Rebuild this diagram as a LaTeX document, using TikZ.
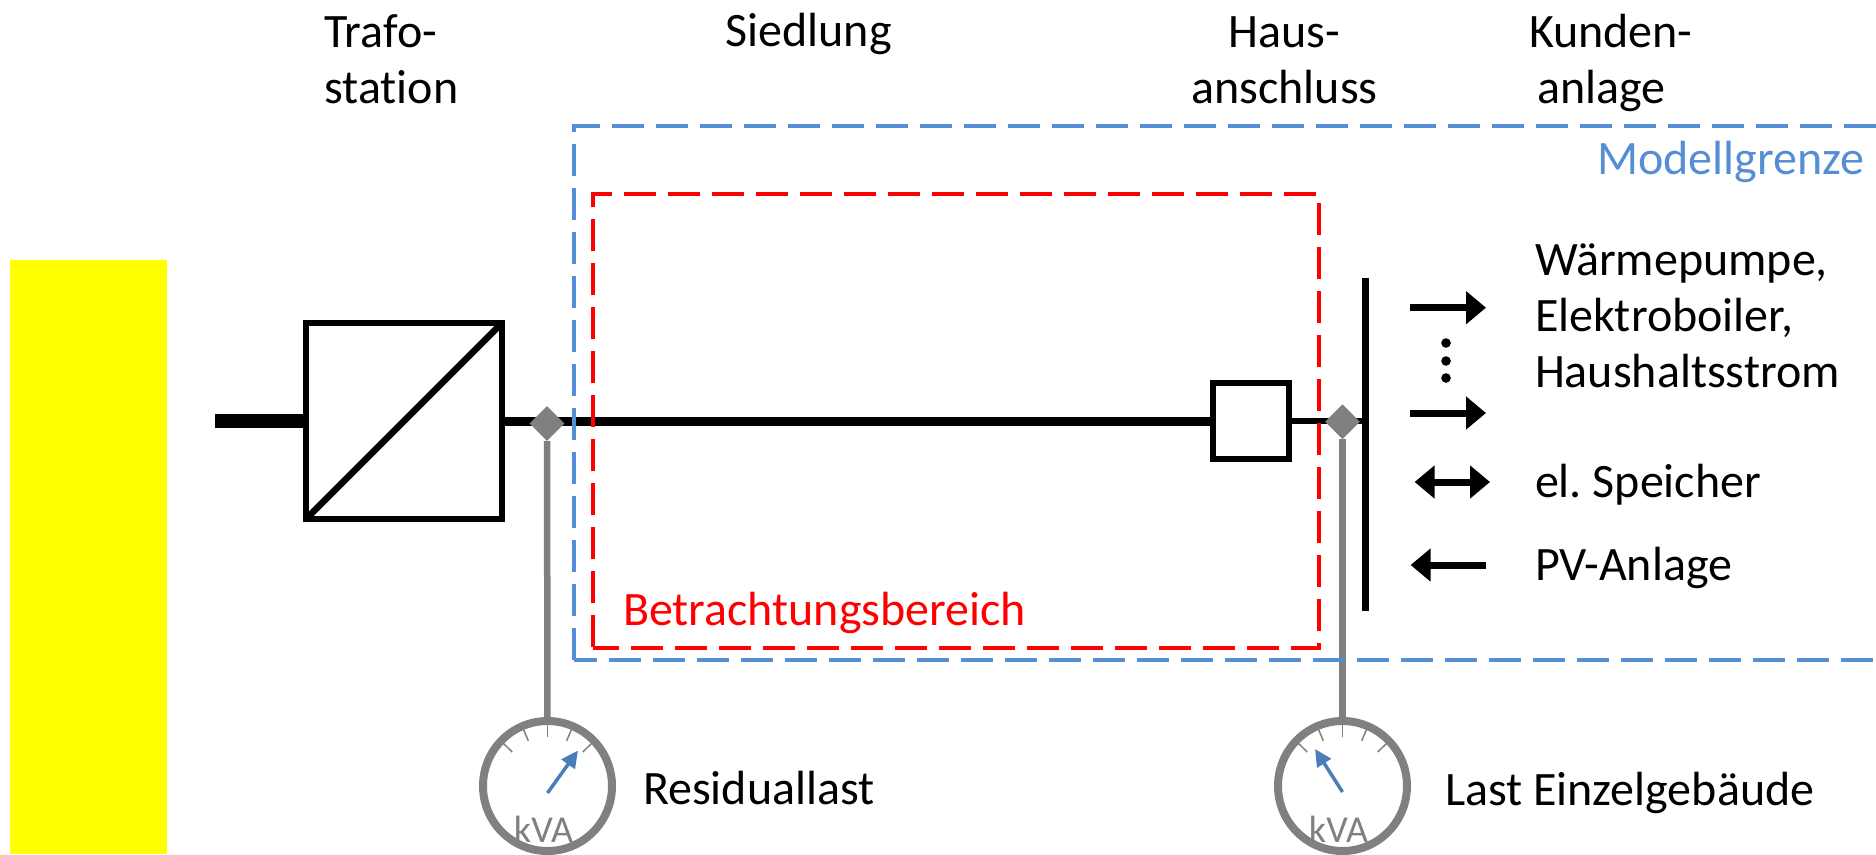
\documentclass[tikz,border=0pt]{standalone}
\usepackage{fontspec}
\setmainfont{Carlito}[Ligatures=NoCommon]
\usetikzlibrary{arrows.meta,shapes.geometric}

\definecolor{netzgelb}{HTML}{FFFF00}
\definecolor{grenzrot}{HTML}{FF0000}
\definecolor{grenzblau}{HTML}{558ED5}
\definecolor{zeigerblau}{HTML}{4A7EBB}
\definecolor{messgrau}{HTML}{808080}

\tikzset{
  beschr/.style={anchor=base west, inner sep=0pt, outer sep=0pt, align=left, font=\fontsize{48}{56}\selectfont},
  kasten/.style={draw=black, fill=white, rectangle, inner sep=0pt, outer sep=0pt},
  mess/.style={diamond, fill=messgrau, inner sep=0pt, minimum width=35pt, minimum height=35pt},
  anzeige/.style={ellipse, draw=messgrau, line width=8pt, inner sep=0pt, outer sep=0pt, minimum width=129pt, minimum height=130pt},
  grenze/.style={line width=4pt, dash pattern=on 32pt off 12pt},
  pfeil/.style={line width=7pt, -{Triangle[length=20pt,width=32pt]}},
  doppelpfeil/.style={line width=7pt, {Triangle[length=20pt,width=32pt]}-{Triangle[length=20pt,width=32pt]}},
  zeiger/.style={zeigerblau, line width=3.5pt, -{Triangle[length=17pt,width=16pt]}},
  skala/.style={messgrau, line width=1.5pt}
}

\begin{document}
\begin{tikzpicture}[x=1pt, y=-1pt]
  \useasboundingbox (0,0) rectangle (1876,854);

  \node (netz) [anchor=north west, fill=netzgelb, inner sep=0pt, minimum width=157pt, minimum height=594pt] at (10,260) {};

  \node (trafo) [kasten, line width=6.5pt, minimum size=196pt] at (404,421) {};
  \node (hak) [kasten, line width=5.5pt, minimum size=76pt] at (1251,421) {};
  \coordinate (einsp) at (215,421);
  \coordinate (sammeloben) at (1365,278);
  \coordinate (sammelunten) at (1365,611);
  \coordinate (sammel) at (1365,421);

  \draw [line width=14pt, black] (einsp)--(trafo.west);
  \draw [line width=6.5pt, black] (trafo.south west)--(trafo.north east);
  \draw [line width=9pt, black] (trafo.east)--(hak.west);
  \draw [line width=6pt, black] (hak.east)--(sammel);
  \draw [line width=7pt, black] (sammeloben)--(sammelunten);

  \node (messa) [mess] at (547,423.5) {};
  \node (messb) [mess] at (1342.5,421.7) {};
  \node (anza) [anzeige] at (547.5,786) {};
  \node (anzb) [anzeige] at (1342.5,786) {};
  \draw [messgrau, line width=6.5pt] (messa.south)--(anza.north);
  \draw [messgrau, line width=6.5pt] (messb.south)--(anzb.north);

  \foreach \s in {a,b} {
    \foreach \w in {224,247,270,293,316} {
      \draw [skala] ([shift={(\w:49)}]anz\s.center)--([shift={(\w:61)}]anz\s.center);
    }
    \node (einheit\s) [anchor=base, inner sep=0pt, messgrau, font=\fontsize{38}{40}\selectfont] at ([shift={(-4,56)}]anz\s.center) {kVA};
  }
  \coordinate (zeigeraa) at (547.5,793);
  \coordinate (zeigerab) at (578,750.5);
  \coordinate (zeigerba) at (1342.5,792);
  \coordinate (zeigerbb) at (1315,749);
  \draw [zeiger] (zeigeraa)--(zeigerab);
  \draw [zeiger] (zeigerba)--(zeigerbb);

  \coordinate (bo) at (1876,126);
  \coordinate (bl) at (574,126);
  \coordinate (bu) at (574,660);
  \coordinate (bur) at (1876,660);
  \draw [grenze, grenzblau] (bo)--(bl)--(bu);
  \draw [grenze, grenzblau, dash phase=9pt] (bu)--(bur);

  \coordinate (rul) at (593,647.7);
  \coordinate (rur) at (1318.6,647.7);
  \coordinate (ror) at (1318.6,194);
  \coordinate (rol) at (593,194);
  \draw [grenze, grenzrot, dash phase=6pt] (rul)--(rur)--(ror)--(rol)--cycle;

  \foreach \n/\y in {a/307.7,b/413} {
    \coordinate (last\n) at (1410,\y);
    \coordinate (lastende\n) at (1486,\y);
    \draw [pfeil] (last\n)--(lastende\n);
  }
  \coordinate (speicherl) at (1414.6,482);
  \coordinate (speicherr) at (1490,482);
  \draw [doppelpfeil] (speicherl)--(speicherr);
  \coordinate (pvl) at (1410.6,565);
  \coordinate (pvr) at (1486,565);
  \draw [pfeil] (pvr)--(pvl);
  \foreach \y in {343,361,378} {
    \fill [black] (1446,\y) circle (4.8);
  }

  \node (ltrafo) [beschr] at (324.5,103) {Trafo-\\station};
  \node (lsiedlung) [beschr] at (725.5,46) {Siedlung};
  \node (lhaus) [beschr, align=center] at (1191.5,103) {Haus-\\anschluss};
  \node (lkunde) [beschr] at (1529,103) {Kunden-\\\hspace*{8pt}anlage};
  \node (lmodell) [beschr, grenzblau] at (1597,174) {Modellgrenze};
  \node (lbereich) [beschr, grenzrot] at (623,625.5) {Betrachtungsbereich};
  \node (lverbr) [beschr] at (1535,387) {Wärmepumpe,\\Elektroboiler,\\Haushaltsstrom};
  \node (lspeicher) [beschr] at (1535,497) {el.\ Speicher};
  \node (lpv) [beschr] at (1535,580) {PV-Anlage};
  \node (lrest) [beschr] at (643,804.5) {Residuallast};
  \node (leinzel) [beschr] at (1445,805) {Last Einzelgebäude};
\end{tikzpicture}
\end{document}
